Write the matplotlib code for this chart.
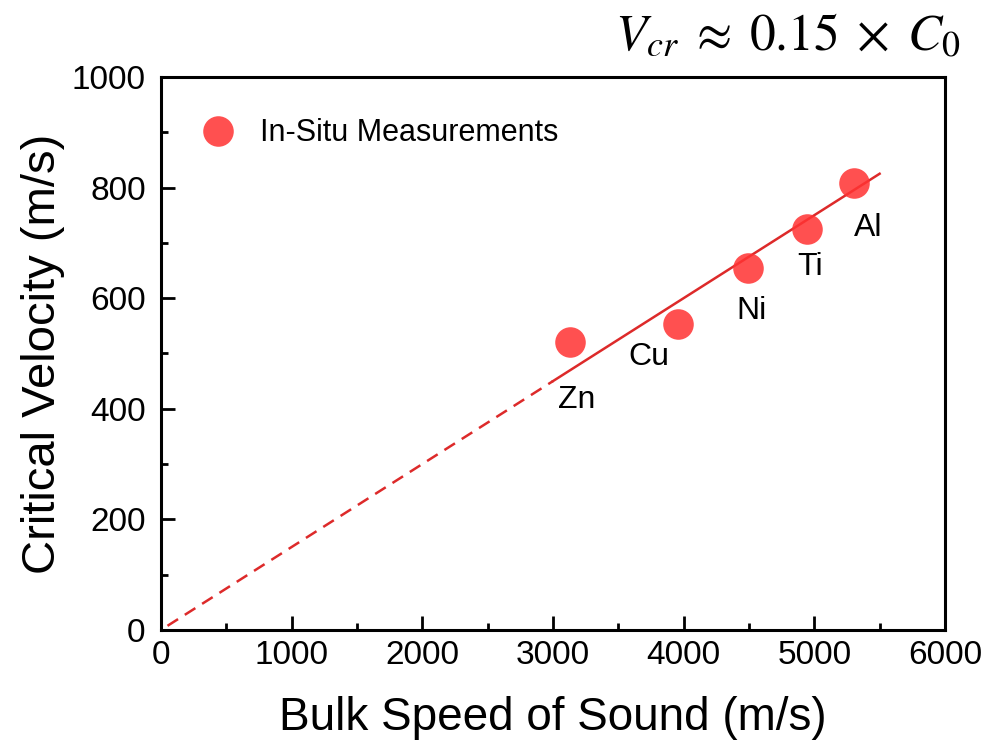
import matplotlib
matplotlib.use("Agg")
import matplotlib.pyplot as plt
from matplotlib.ticker import MultipleLocator

plt.rcParams["font.family"] = ["Liberation Sans", "DejaVu Sans"]
plt.rcParams["mathtext.fontset"] = "stix"

# In-situ critical velocity measurements vs. bulk speed of sound
metals = ["Zn", "Cu", "Ni", "Ti", "Al"]
sound_speed = [3130, 3960, 4495, 4945, 5305]
critical_velocity = [521, 553, 654, 725, 809]

# Linear fit through the origin: V_cr = 0.15 * C0
fit_slope = 0.15
fit_dashed_x = [50, 3000]
fit_solid_x = [3000, 5500]

# Label offsets (data units) for the metal annotations
label_dx = [55, -225, 28, 22, 106]
label_dy = [-105, -59, -78, -69, -82]

fig = plt.figure(figsize=(10.01, 7.48), dpi=100)
ax = fig.add_axes([0.1608, 0.1578, 0.7832, 0.7393])

line_color = "#DD2A2A"
ax.plot(fit_dashed_x, [fit_slope * v for v in fit_dashed_x], color=line_color,
        lw=1.8, ls=(0, (5, 3.2)), zorder=2)
ax.plot(fit_solid_x, [fit_slope * v for v in fit_solid_x], color=line_color,
        lw=1.8, zorder=2)

ax.plot(sound_speed, critical_velocity, ls="none", marker="o", ms=22,
        mfc="#FF3333", mec="none", alpha=0.86, zorder=3,
        label="In-Situ Measurements")

for name, x, y, dx, dy in zip(metals, sound_speed, critical_velocity, label_dx, label_dy):
    ax.text(x + dx, y + dy, name, fontsize=23, ha="center", va="center")

ax.set_xlim(0, 6000)
ax.set_ylim(0, 1000)
ax.xaxis.set_major_locator(MultipleLocator(1000))
ax.xaxis.set_minor_locator(MultipleLocator(500))
ax.yaxis.set_major_locator(MultipleLocator(200))
ax.yaxis.set_minor_locator(MultipleLocator(100))

ax.tick_params(which="both", direction="in", top=False, right=False, width=2,
               labelsize=24)
ax.tick_params(axis="x", pad=7)
ax.tick_params(axis="y", pad=11)
ax.tick_params(which="major", length=10)
ax.tick_params(which="minor", length=5)
for s in ax.spines.values():
    s.set_linewidth(2.2)

ax.set_xlabel("Bulk Speed of Sound (m/s)", fontsize=33, labelpad=18)
ax.set_ylabel("Critical Velocity (m/s)", fontsize=34, labelpad=5)

ax.legend(loc="upper left", bbox_to_anchor=(0.006, 0.975), frameon=False,
          fontsize=22, handletextpad=0.6, handlelength=1.6, markerscale=1.0)

fig.text(0.96, 0.95, r"$V_{cr}\;\approx\;0.15\;\times\;C_0$", fontsize=37,
         ha="right", va="center")

fig.savefig("out.png", dpi=100)
